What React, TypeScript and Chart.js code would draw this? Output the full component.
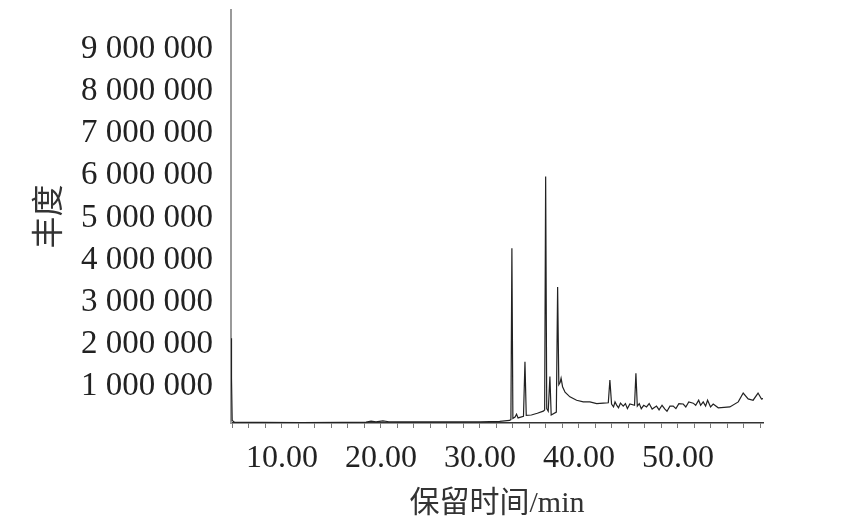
import React, { useEffect, useRef } from "react";
import { Chart, registerables } from "chart.js";

Chart.register(...registerables);

// Retention time (min)
const TIMES = [
  4.85, 4.9, 4.97, 5.2, 8.0, 12.0, 16.0, 18.5, 19.0, 19.5, 20.2, 20.8, 22.0, 26.0, 30.0, 32.0,
  33.0, 33.13, 33.23, 33.33, 33.55, 33.7, 33.85, 34.4, 34.55, 34.68, 35.2, 35.8, 36.4, 36.54,
  36.64, 36.75, 36.9, 37.07, 37.2, 37.72, 37.85, 37.97, 38.1, 38.2, 38.35, 38.6, 39.09, 39.77,
  40.44, 41.11, 41.8, 42.46, 42.97, 43.13, 43.3, 43.5, 43.65, 43.8, 44.0, 44.2, 44.48, 44.7,
  44.9, 45.15, 45.62, 45.76, 45.9, 46.1, 46.3, 46.55, 46.83, 47.1, 47.4, 47.84, 48.1, 48.4,
  48.69, 48.9, 49.2, 49.53, 49.8, 50.1, 50.54, 50.8, 51.1, 51.55, 51.8, 52.1, 52.3, 52.56,
  52.8, 53.0, 53.3, 53.57, 54.08, 55.25, 56.1, 56.6, 57.1, 57.6, 58.1, 58.45, 58.6,
];

// Abundance
const ABUNDANCE = [
  2150000, 1200000, 200000, 160000, 155000, 150000, 155000, 160000, 185000, 165000, 190000, 170000, 165000, 165000, 170000, 180000,
  200000, 220000, 4280000, 250000, 280000, 350000, 260000, 300000, 1590000, 320000, 330000, 370000, 420000, 450000,
  5980000, 480000, 420000, 1240000, 330000, 400000, 3360000, 1050000, 1100000, 1200000, 1000000, 870000, 760000, 680000,
  640000, 640000, 600000, 610000, 620000, 1160000, 590000, 520000, 640000, 570000, 500000, 610000, 540000, 600000,
  480000, 590000, 560000, 1320000, 540000, 600000, 480000, 560000, 520000, 600000, 470000, 540000, 450000, 560000,
  470000, 420000, 540000, 540000, 480000, 600000, 590000, 520000, 640000, 610000, 560000, 680000, 560000, 640000,
  540000, 680000, 520000, 590000, 500000, 520000, 640000, 850000, 710000, 680000, 850000, 710000, 720000,
];

const Y_TICKS = [1000000, 2000000, 3000000, 4000000, 5000000, 6000000, 7000000, 8000000, 9000000];
const X_LABELS = [10, 20, 30, 40, 50];
const X_MIN = 4.85;
const X_MAX = 58.6;
const Y_MIN = 140000;
const Y_MAX = 9927000;
const X_MINOR_STEP = 10 / 6;

const fmtSpace = (v: number) => String(Math.round(v)).replace(/\B(?=(\d{3})+(?!\d))/g, " ");

export default function App() {
  const ref = useRef<HTMLCanvasElement | null>(null);

  useEffect(() => {
    document.body.style.margin = "0";
    if (!ref.current) return;
    const points = TIMES.map((t, i) => ({ x: t, y: ABUNDANCE[i] }));
    const chart = new Chart(ref.current, {
      type: "line",
      data: {
        datasets: [
          {
            data: points,
            borderColor: "#222",
            borderWidth: 1.2,
            pointRadius: 0,
            tension: 0,
            fill: false,
          },
        ],
      },
      options: {
        animation: false,
        responsive: false,
        layout: { padding: { left: 0, top: 10, right: 96, bottom: 0 } },
        plugins: { legend: { display: false }, tooltip: { enabled: false } },
        scales: {
          x: {
            type: "linear",
            min: X_MIN,
            max: X_MAX,
            afterBuildTicks: (scale: any) => {
              const ticks: { value: number }[] = [];
              for (let v = 5; v <= X_MAX + 1e-9; v += X_MINOR_STEP) ticks.push({ value: +v.toFixed(4) });
              scale.ticks = ticks;
            },
            afterFit: (scale: any) => {
              scale.height = 105;
              scale.paddingLeft = 0;
              scale.paddingRight = 0;
            },
            grid: {
              drawOnChartArea: false,
              drawTicks: true,
              tickLength: 5,
              color: "#777",
              lineWidth: 1,
            },
            border: { display: true, color: "#333", width: 1.6 },
            ticks: {
              autoSkip: false,
              maxRotation: 0,
              padding: 11,
              color: "#222",
              font: { family: "'Liberation Serif', serif", size: 32 },
              callback: (value: any) => {
                const v = Number(value);
                const hit = X_LABELS.find((l) => Math.abs(l - v) < 1e-3);
                return hit !== undefined ? hit.toFixed(2) : "";
              },
            },
            title: {
              display: true,
              text: "保留时间/min",
              color: "#333",
              padding: { top: 0, bottom: 6 },
              font: { family: "'Liberation Serif', 'Noto Sans CJK SC', serif", size: 30 },
            },
          },
          y: {
            type: "linear",
            min: Y_MIN,
            max: Y_MAX,
            afterBuildTicks: (scale: any) => {
              scale.ticks = Y_TICKS.map((v) => ({ value: v }));
            },
            afterFit: (scale: any) => {
              scale.width = 231;
              scale.paddingTop = 0;
              scale.paddingBottom = 0;
            },
            grid: { drawOnChartArea: false, drawTicks: false },
            border: { display: true, color: "#9a9a9a", width: 2 },
            ticks: {
              padding: 18,
              color: "#222",
              font: { family: "'Liberation Serif', serif", size: 33 },
              callback: (value: any) => fmtSpace(Number(value)),
            },
            title: {
              display: true,
              text: "丰度",
              color: "#333",
              padding: { top: 28, bottom: 0 },
              font: { family: "'Noto Sans CJK SC', sans-serif", size: 32 },
            },
          },
        },
      },
    });
    return () => chart.destroy();
  }, []);

  return (
    <div style={{ width: 859, height: 528, background: "#fff" }}>
      <canvas ref={ref} width={859} height={528} />
    </div>
  );
}
